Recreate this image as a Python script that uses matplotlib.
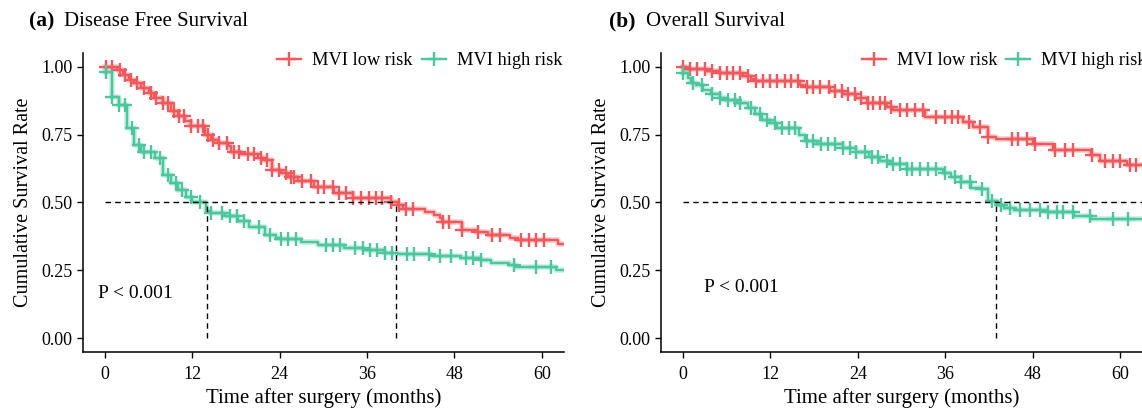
import numpy as np
import matplotlib
matplotlib.use("Agg")
import matplotlib.pyplot as plt

plt.rcParams['font.family'] = ['Liberation Serif', 'DejaVu Serif']

# Disease free survival (a)
dfs_low_t = [0, 1.7, 2.5, 3.3, 4.0, 5.0, 6.0, 6.7, 7.9, 9.0, 10.0, 11.0, 11.8, 13.7, 14.6, 15.5,
             16.9, 17.3, 18.7, 21.0, 21.9, 23.0, 24.2, 25.1, 26.5, 28.7, 31.4, 34.0, 39.3, 40.2,
             41.0, 44.0, 45.2, 46.0, 46.3, 49.1, 50.9, 52.6, 55.7, 56.7, 62.2, 64.0]
dfs_low_s = [1.0, 0.988, 0.97, 0.952, 0.94, 0.921, 0.903, 0.884, 0.866, 0.835, 0.817, 0.80, 0.78,
             0.749, 0.73, 0.718, 0.706, 0.687, 0.68, 0.663, 0.655, 0.62, 0.607, 0.595, 0.58, 0.556,
             0.534, 0.515, 0.503, 0.49, 0.475, 0.465, 0.453, 0.441, 0.429, 0.40, 0.392, 0.38, 0.37,
             0.36, 0.347, 0.347]
dfs_low_cens = [0.1, 0.9, 2.1, 2.8, 3.5, 4.4, 5.3, 6.3, 7.0, 7.9, 8.6, 9.5, 10.2, 10.8, 11.8, 12.7,
                13.4, 14.1, 14.8, 15.7, 16.8, 17.7, 18.4, 19.6, 20.5, 21.4, 22.3, 23.0, 23.9, 24.8,
                25.6, 26.0, 27.1, 28.3, 29.2, 30.1, 31.3, 32.2, 33.1, 34.0, 35.1, 36.3, 37.2, 38.1,
                39.3, 40.4, 41.3, 42.3, 46.4, 47.3, 49.1, 51.2, 53.1, 54.2, 57.2, 58.2, 59.2, 60.3]

dfs_high_t = [0, 1.0, 1.9, 3.0, 4.0, 4.9, 6.9, 8.0, 9.0, 10.0, 11.1, 12.0, 13.9, 14.5, 16.5, 18.3,
              19.8, 22.0, 23.5, 24.0, 26.9, 29.2, 32.8, 35.5, 38.3, 40.2, 44.8, 48.9, 51.6, 53.0,
              55.5, 56.5, 62.0, 64.0]
dfs_high_s = [0.98, 0.89, 0.857, 0.774, 0.712, 0.687, 0.663, 0.601, 0.571, 0.546, 0.521, 0.503,
              0.47, 0.46, 0.45, 0.43, 0.41, 0.38, 0.37, 0.364, 0.355, 0.343, 0.331, 0.324, 0.315,
              0.31, 0.302, 0.294, 0.288, 0.278, 0.27, 0.26, 0.25, 0.25]
dfs_high_cens = [0.1, 1.0, 1.9, 2.8, 3.7, 4.6, 5.3, 6.3, 7.6, 8.6, 9.7, 10.6, 11.8, 13.1, 14.6,
                 16.1, 17.1, 18.1, 19.1, 21.2, 22.7, 24.2, 25.2, 26.2, 30.3, 31.3, 32.3, 34.4, 35.4,
                 36.4, 37.4, 38.4, 39.4, 41.5, 42.5, 44.5, 46.0, 47.5, 49.6, 50.6, 51.6, 56.2, 59.2,
                 61.3]

# Overall survival (b)
os_low_t = [0, 0.5, 3.3, 5.1, 8.3, 9.4, 10.1, 16.1, 17.0, 20.2, 22.0, 23.8, 25.2, 28.0, 28.9, 33.2,
            38.4, 39.8, 41.9, 43.0, 48.1, 50.8, 56.0, 57.2, 60.9, 64.0]
os_low_s = [1.0, 0.991, 0.984, 0.976, 0.967, 0.955, 0.947, 0.933, 0.924, 0.911, 0.899, 0.883, 0.865,
            0.853, 0.84, 0.816, 0.797, 0.779, 0.742, 0.732, 0.714, 0.693, 0.675, 0.652, 0.637, 0.637]
os_low_cens = [0.0, 1.0, 1.9, 3.0, 4.0, 5.1, 6.0, 6.9, 7.8, 9.0, 10.1, 11.0, 12.0, 12.9, 14.0, 14.9,
               15.8, 17.0, 17.9, 18.8, 20.0, 20.9, 21.8, 22.7, 23.6, 24.5, 25.4, 26.1, 27.0, 27.7,
               28.6, 29.8, 30.7, 31.8, 33.0, 34.8, 36.0, 36.9, 37.8, 39.2, 40.8, 41.9, 45.1, 46.0,
               47.2, 48.3, 51.0, 52.4, 53.6, 56.1, 57.9, 59.0, 60.0, 61.3, 62.2]

os_high_t = [0, 0.7, 1.1, 1.8, 2.7, 3.8, 5.1, 5.8, 7.4, 9.0, 9.9, 10.8, 12.0, 12.9, 15.9, 16.8,
             18.4, 22.0, 23.8, 25.6, 27.0, 28.4, 30.7, 35.7, 36.8, 38.2, 39.6, 40.9, 41.9, 43.1,
             44.0, 45.4, 50.0, 53.7, 56.0, 64.0]
os_high_s = [0.976, 0.957, 0.939, 0.932, 0.914, 0.898, 0.886, 0.877, 0.865, 0.847, 0.825, 0.804,
             0.791, 0.773, 0.748, 0.726, 0.714, 0.699, 0.684, 0.668, 0.652, 0.64, 0.623, 0.61, 0.595,
             0.574, 0.554, 0.548, 0.505, 0.49, 0.478, 0.472, 0.463, 0.451, 0.439, 0.439]
os_high_cens = [0.0, 1.4, 2.6, 4.0, 5.1, 6.2, 7.1, 7.8, 9.4, 10.6, 11.5, 12.6, 13.6, 14.5, 15.4,
                17.0, 17.9, 19.0, 19.9, 20.9, 22.0, 22.9, 23.8, 25.0, 25.9, 26.8, 28.0, 28.9, 29.8,
                30.7, 31.4, 32.5, 33.7, 34.8, 36.0, 37.3, 38.2, 39.4, 41.0, 42.4, 43.7, 44.9, 46.2,
                47.6, 49.0, 50.1, 51.3, 52.2, 53.6, 55.8, 59.0, 61.1]

dfs_medians = [14, 40]
os_medians = [43]

labels = ['MVI low risk', 'MVI high risk']
red = '#F0585B'
green = '#4CC69C'


def km(ax, t, s, cens, color, label):
    t = np.array(t)
    s = np.array(s)
    ax.step(t, s, where='post', color=color, lw=4, alpha=0.3)
    ax.step(t, s, where='post', color=color, lw=1.7)
    c = np.array(cens)
    idx = np.searchsorted(t, c, side='right') - 1
    ax.plot(c, s[idx], ls='none', marker='+', ms=9.5, mew=1.7, color=color)
    ax.plot([], [], color=color, lw=1.7, marker='+', ms=9.5, mew=1.7, label=label)


fig = plt.figure(figsize=(11.42, 4.08), dpi=100)
ax1 = fig.add_axes([0.0729, 0.1382, 0.4206, 0.7316])
ax2 = fig.add_axes([0.5788, 0.1382, 0.4212, 0.7316])

km(ax1, dfs_low_t, dfs_low_s, dfs_low_cens, red, labels[0])
km(ax1, dfs_high_t, dfs_high_s, dfs_high_cens, green, labels[1])
km(ax2, os_low_t, os_low_s, os_low_cens, red, labels[0])
km(ax2, os_high_t, os_high_s, os_high_cens, green, labels[1])

# median lines
ax1.plot([0, max(dfs_medians)], [0.5, 0.5], ls=(0, (4, 3)), color='black', lw=1)
for m in dfs_medians:
    ax1.plot([m, m], [0, 0.5], ls=(0, (4, 3)), color='black', lw=1)
ax2.plot([0, 63], [0.5, 0.5], ls=(0, (4, 3)), color='black', lw=1)
for m in os_medians:
    ax2.plot([m, m], [0, 0.5], ls=(0, (4, 3)), color='black', lw=1)

ax1.text(-1.0, 0.165, 'P < 0.001', fontsize=14, va='center', ha='left')
ax2.text(2.9, 0.185, 'P < 0.001', fontsize=14, va='center', ha='left')

for ax in (ax1, ax2):
    ax.set_xlim(-3, 63)
    ax.set_ylim(-0.05, 1.05)
    ax.set_xticks([0, 12, 24, 36, 48, 60])
    ax.set_yticks([0, 0.25, 0.5, 0.75, 1.0])
    ax.set_yticklabels(['0.00', '0.25', '0.50', '0.75', '1.00'])
    for sp in ('top', 'right'):
        ax.spines[sp].set_visible(False)
    for sp in ('left', 'bottom'):
        ax.spines[sp].set_linewidth(1.1)
    ax.tick_params(labelsize=13, length=4, width=1, colors='black')
    ax.tick_params(axis='x', pad=6)
    ax.set_xlabel('Time after surgery (months)', fontsize=15, labelpad=4)
    ax.set_ylabel('Cumulative Survival Rate', fontsize=14.5, labelpad=6)
    ax.legend(loc='center right', bbox_to_anchor=(1.012, 0.975), ncol=2, frameon=False,
              fontsize=13.2, handlelength=1.3, handletextpad=0.6, columnspacing=0.5,
              borderaxespad=0)

ax2.get_legend().set_bbox_to_anchor((1.025, 0.975))

fig.text(0.025, 0.948, '(a)', fontsize=15.5, fontweight='bold', va='center')
fig.text(0.056, 0.948, 'Disease Free Survival', fontsize=15, va='center')
fig.text(0.533, 0.948, '(b)', fontsize=15.5, fontweight='bold', va='center')
fig.text(0.566, 0.948, 'Overall Survival', fontsize=15, va='center')

fig.savefig('out.png', dpi=100)
